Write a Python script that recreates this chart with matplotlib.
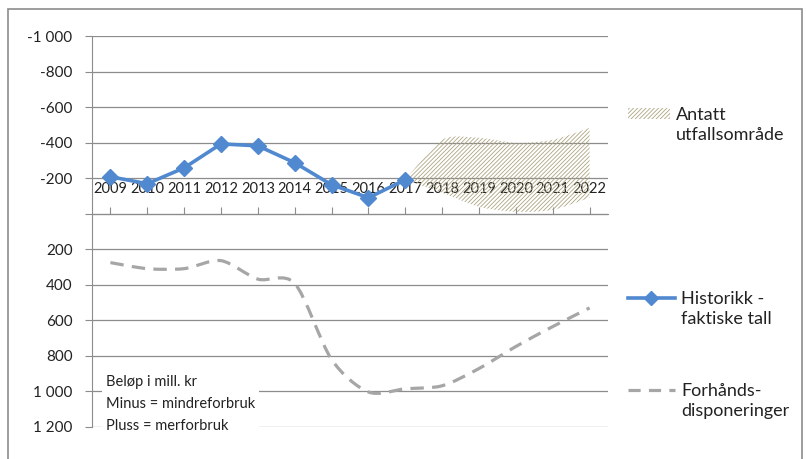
import numpy as np
import matplotlib
matplotlib.use('Agg')
import matplotlib.pyplot as plt
from matplotlib.path import Path
from matplotlib.patches import PathPatch, Patch, Rectangle
from matplotlib.lines import Line2D
from matplotlib.ticker import FixedLocator, FuncFormatter

plt.rcParams['font.family'] = ['Lato', 'DejaVu Sans']
plt.rcParams['hatch.linewidth'] = 0.6

# data (mill. kr, minus = mindreforbruk)
years = ['2009', '2010', '2011', '2012', '2013', '2014', '2015',
         '2016', '2017', '2018', '2019', '2020', '2021', '2022']
historikk = [-208, -169, -258, -393, -382, -287, -163, -90, -191]
forhand = [275, 309, 309, 264, 368, 392, 820, 1003, 985, 968, 871, 747, 635, 530]
omr_years = ['2017', '2018', '2019', '2020', '2021', '2022']
omr_low = [-191, -118, -39, -11, -22, -90]
omr_high = [-191, -416, -427, -399, -416, -483]

yticks = [-1000, -800, -600, -400, -200, 0, 200, 400, 600, 800, 1000, 1200]

blue = '#5089D0'
grey = '#A6A6A6'
hatchc = '#ADA582'
gridc = '#8C8C8C'


def smooth(xs, ys, k=7.0):
    # cardinal spline -> cubic bezier, like excel's smoothed line
    pts = np.column_stack([xs, ys]).astype(float)
    n = len(pts)
    verts = [pts[0]]
    codes = [Path.MOVETO]
    for i in range(n - 1):
        p0 = pts[i - 1] if i > 0 else pts[i]
        p1 = pts[i]
        p2 = pts[i + 1]
        p3 = pts[i + 2] if i + 2 < n else pts[i + 1]
        verts += [p1 + (p2 - p0) / k, p2 - (p3 - p1) / k, p2]
        codes += [Path.CURVE4] * 3
    return verts, codes


fig = plt.figure(figsize=(8.06, 4.59), dpi=100)
ax = fig.add_axes([92 / 806, 32 / 459, 516 / 806, 391 / 459])

x_all = np.arange(len(years))
x_hist = x_all[:len(historikk)]
x_omr = np.array([years.index(y) for y in omr_years])

# hatched area
vu, cu = smooth(x_omr, omr_high)
vl, cl = smooth(x_omr[::-1], omr_low[::-1])
cl[0] = Path.LINETO
verts = vu + vl + [vu[0]]
codes = cu + cl + [Path.CLOSEPOLY]
area = PathPatch(Path(verts, codes), facecolor='none', edgecolor=hatchc,
                 hatch='////////', lw=0, zorder=1)
ax.add_patch(area)

# forhåndsdisponeringer, smoothed dashed
vf, cf = smooth(x_all, forhand)
ax.add_patch(PathPatch(Path(vf, cf), fill=False, edgecolor=grey, lw=2.3,
                       linestyle=(0, (4.2, 2.6)), zorder=3))

ax.plot(x_hist, historikk, color=blue, lw=2.6, marker='D', markersize=8.5,
        zorder=4)

ax.set_xlim(-0.5, len(years) - 0.5)
ax.set_ylim(1200, -1000)
ax.yaxis.set_major_locator(FixedLocator(yticks))
ax.yaxis.set_major_formatter(FuncFormatter(
    lambda v, p: '' if v == 0 else f'{int(v):,}'.replace(',', ' ')))
ax.tick_params(axis='y', direction='out', length=5, color=gridc,
               labelsize=11, pad=9, labelcolor='#222222')
ax.grid(axis='y', color=gridc, lw=0.9)
ax.set_axisbelow(True)

ax.set_xticks(x_all)
ax.set_xticklabels(years)
ax.tick_params(axis='x', direction='in', length=5, color=gridc,
               labelsize=10.5, pad=-23, labelcolor='#222222')

for s in ['top', 'right']:
    ax.spines[s].set_visible(False)
ax.spines['bottom'].set_position(('data', 0))
ax.spines['bottom'].set_color(gridc)
ax.spines['left'].set_color(gridc)

ax.text(0.027, 0.133, 'Beløp i mill. kr\nMinus = mindreforbruk\nPluss = merforbruk',
        transform=ax.transAxes, fontsize=10.5, va='top', ha='left',
        linespacing=1.72, color='#222222', zorder=6,
        bbox=dict(facecolor='white', edgecolor='none', pad=3))

# legend, three separate blocks; blank handle for the second text line
leg_kw = dict(frameon=False, loc='upper left', borderpad=0, borderaxespad=0,
              handletextpad=0.35, prop={'size': 13}, labelcolor='#222222',
              labelspacing=0.22)
blank = Patch(facecolor='none', edgecolor='none')
h1 = Patch(facecolor='none', edgecolor=hatchc, hatch='////////', lw=0)
h2 = Line2D([], [], color=blue, lw=2.6, marker='D', markersize=7)
h3 = Line2D([], [], color=grey, lw=2.3, linestyle=(0, (3.8, 2.6)))
fig.legend([h1, blank], ['Antatt', 'utfallsområde'],
           bbox_to_anchor=(628 / 806, 1 - 107 / 459),
           handlelength=2.3, handleheight=0.55, **leg_kw)
fig.legend([h2, blank], ['Historikk -', 'faktiske tall'],
           bbox_to_anchor=(628 / 806, 1 - 291 / 459),
           handlelength=2.6, **leg_kw)
fig.legend([h3, blank], ['Forhånds-', 'disponeringer'],
           bbox_to_anchor=(628 / 806, 1 - 383 / 459),
           handlelength=2.6, **leg_kw)

# outer frame
fig.patches.append(Rectangle((8 / 806, -0.2), 794 / 806, 1.2 - 9 / 459, fill=False,
                             edgecolor='#8C8C8C', lw=1.2, transform=fig.transFigure))

fig.savefig('out.png', dpi=100)
